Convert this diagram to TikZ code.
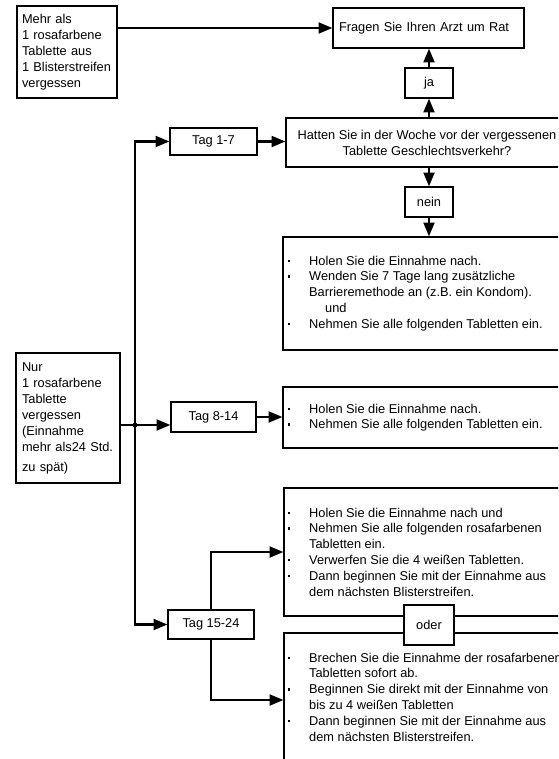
\documentclass[tikz,border=0pt]{standalone}
\usepackage{fontspec}
\setmainfont{Liberation Sans}
\usepackage{tikz}
\usetikzlibrary{shapes.geometric, arrows}
\tikzstyle{arrow} = [line width=2.2pt,->,>=triangle 45]
\tikzstyle{linie} = [line width=2.2pt]
\tikzstyle{kasten} = [draw, line width=1.6pt, rectangle, inner sep=0pt, font=\fontsize{12.8}{16}\selectfont]
\tikzstyle{liste} = [anchor=north west, inner sep=0pt, align=left, font=\fontsize{12.8}{15.8}\selectfont]
\newcommand{\pkt}{\makebox[24pt][l]{\hspace{3pt}\rule[3pt]{2pt}{2.4pt}}}
\newcommand{\weiter}{\hspace*{24pt}}

\begin{document}
\begin{tikzpicture}[x=1pt,y=-1pt]
		\useasboundingbox (0,0) rectangle (558,759);
		\clip (0,0) rectangle (558,759);
		% obere Reihe
		\node[kasten, minimum width=100pt, minimum height=92pt, text width=90pt, align=left] (mehr) at (67,52) {Mehr als\\1 rosafarbene\\Tablette aus\\1 Blisterstreifen\\vergessen};
		\node[kasten, minimum width=191pt, minimum height=40pt, text width=179pt, align=left] (fragen) at (428.5,28) {Fragen Sie Ihren Arzt um Rat};
		\node[kasten, minimum width=48pt, minimum height=30pt] (ja) at (429,83) {ja};
		\node[kasten, minimum width=282pt, minimum height=49pt, align=center] (hatten) at (427,142.5) {Hatten Sie in der Woche vor der vergessenen\\Tablette Geschlechtsverkehr?};
		\node[kasten, minimum width=87pt, minimum height=27pt] (tag17) at (213.5,141.5) {Tag 1-7};
		\node[kasten, minimum width=48pt, minimum height=30pt] (nein) at (429,202) {nein};
		\node[kasten, minimum width=285pt, minimum height=113pt] (nachA) at (425.5,293.5) {};
		\node[liste] (nachAtxt) at (285,253.8) {\pkt\strut Holen Sie die Einnahme nach.\\ \pkt Wenden Sie 7 Tage lang zusätzliche\\ \weiter Barrieremethode an (z.B. ein Kondom).\\ \weiter\hspace*{16pt}und\\ \pkt Nehmen Sie alle folgenden Tabletten ein.};
		% mittlere Reihe
		\node[kasten, minimum width=104pt, minimum height=130pt, text width=92pt, align=left] (nur) at (68,418) {Nur\\1 rosafarbene\\Tablette\\vergessen\\(Einnahme\\mehr als24 Std.\\[4pt]zu spät)};
		\node[kasten, minimum width=85pt, minimum height=30pt] (tag814) at (213.5,417) {Tag 8-14};
		\node[kasten, minimum width=285pt, minimum height=61pt] (nachB) at (425.5,417.5) {};
		\node[liste] (nachBtxt) at (285,401.8) {\pkt\strut Holen Sie die Einnahme nach.\\ \pkt Nehmen Sie alle folgenden Tabletten ein.};
		% untere Reihe
		\node[kasten, minimum width=86pt, minimum height=29pt] (tag1524) at (211,624.5) {Tag 15-24};
		\node[kasten, minimum width=284pt, minimum height=128pt] (nachC) at (426,552) {};
		\node[liste] (nachCtxt) at (285,505.8) {\pkt\strut Holen Sie die Einnahme nach und\\ \pkt Nehmen Sie alle folgenden rosafarbenen\\ \weiter Tabletten ein.\\ \pkt Verwerfen Sie die 4 weißen Tabletten.\\ \pkt Dann beginnen Sie mit der Einnahme aus\\ \weiter dem nächsten Blisterstreifen.};
		\node[kasten, minimum width=284pt, minimum height=134pt] (nachD) at (426,700) {};
		\node[liste] (nachDtxt) at (285,650.8) {\pkt\strut Brechen Sie die Einnahme der rosafarbenen\\ \weiter Tabletten sofort ab.\\ \pkt Beginnen Sie direkt mit der Einnahme von\\ \weiter bis zu 4 weißen Tabletten\\ \pkt Dann beginnen Sie mit der Einnahme aus\\ \weiter dem nächsten Blisterstreifen.};
		\node[kasten, fill=white, minimum width=50pt, minimum height=40pt] (oder) at (429,625) {oder};
		% Verbindungen
		\coordinate (knoten) at (135,425);
		\draw[arrow] (fragen.west -| mehr.east) -- (fragen.west);
		\draw[arrow] (ja |- hatten.north) -- (ja.south);
		\draw[arrow] (ja.north) -- (ja |- fragen.south);
		\draw[arrow] (tag17.east) -- (tag17.east -| hatten.west);
		\draw[arrow] (nein |- hatten.south) -- (nein.north);
		\draw[arrow] (nein.south) -- (nein |- nachA.north);
		\draw[arrow] (knoten) |- (tag17.west);
		\draw[arrow] (knoten) |- (tag1524.west);
		\draw[linie] (nur.east |- knoten) -- (knoten);
		\draw[arrow] (knoten) -- (knoten -| tag814.west);
		\fill (knoten) circle (2.4pt);
		\draw[arrow] (tag814.east) -- (tag814.east -| nachB.west);
		\draw[arrow] (tag1524.north) |- (nachC.west);
		\draw[arrow] (tag1524.south) |- (nachD.west);
\end{tikzpicture}
\end{document}
